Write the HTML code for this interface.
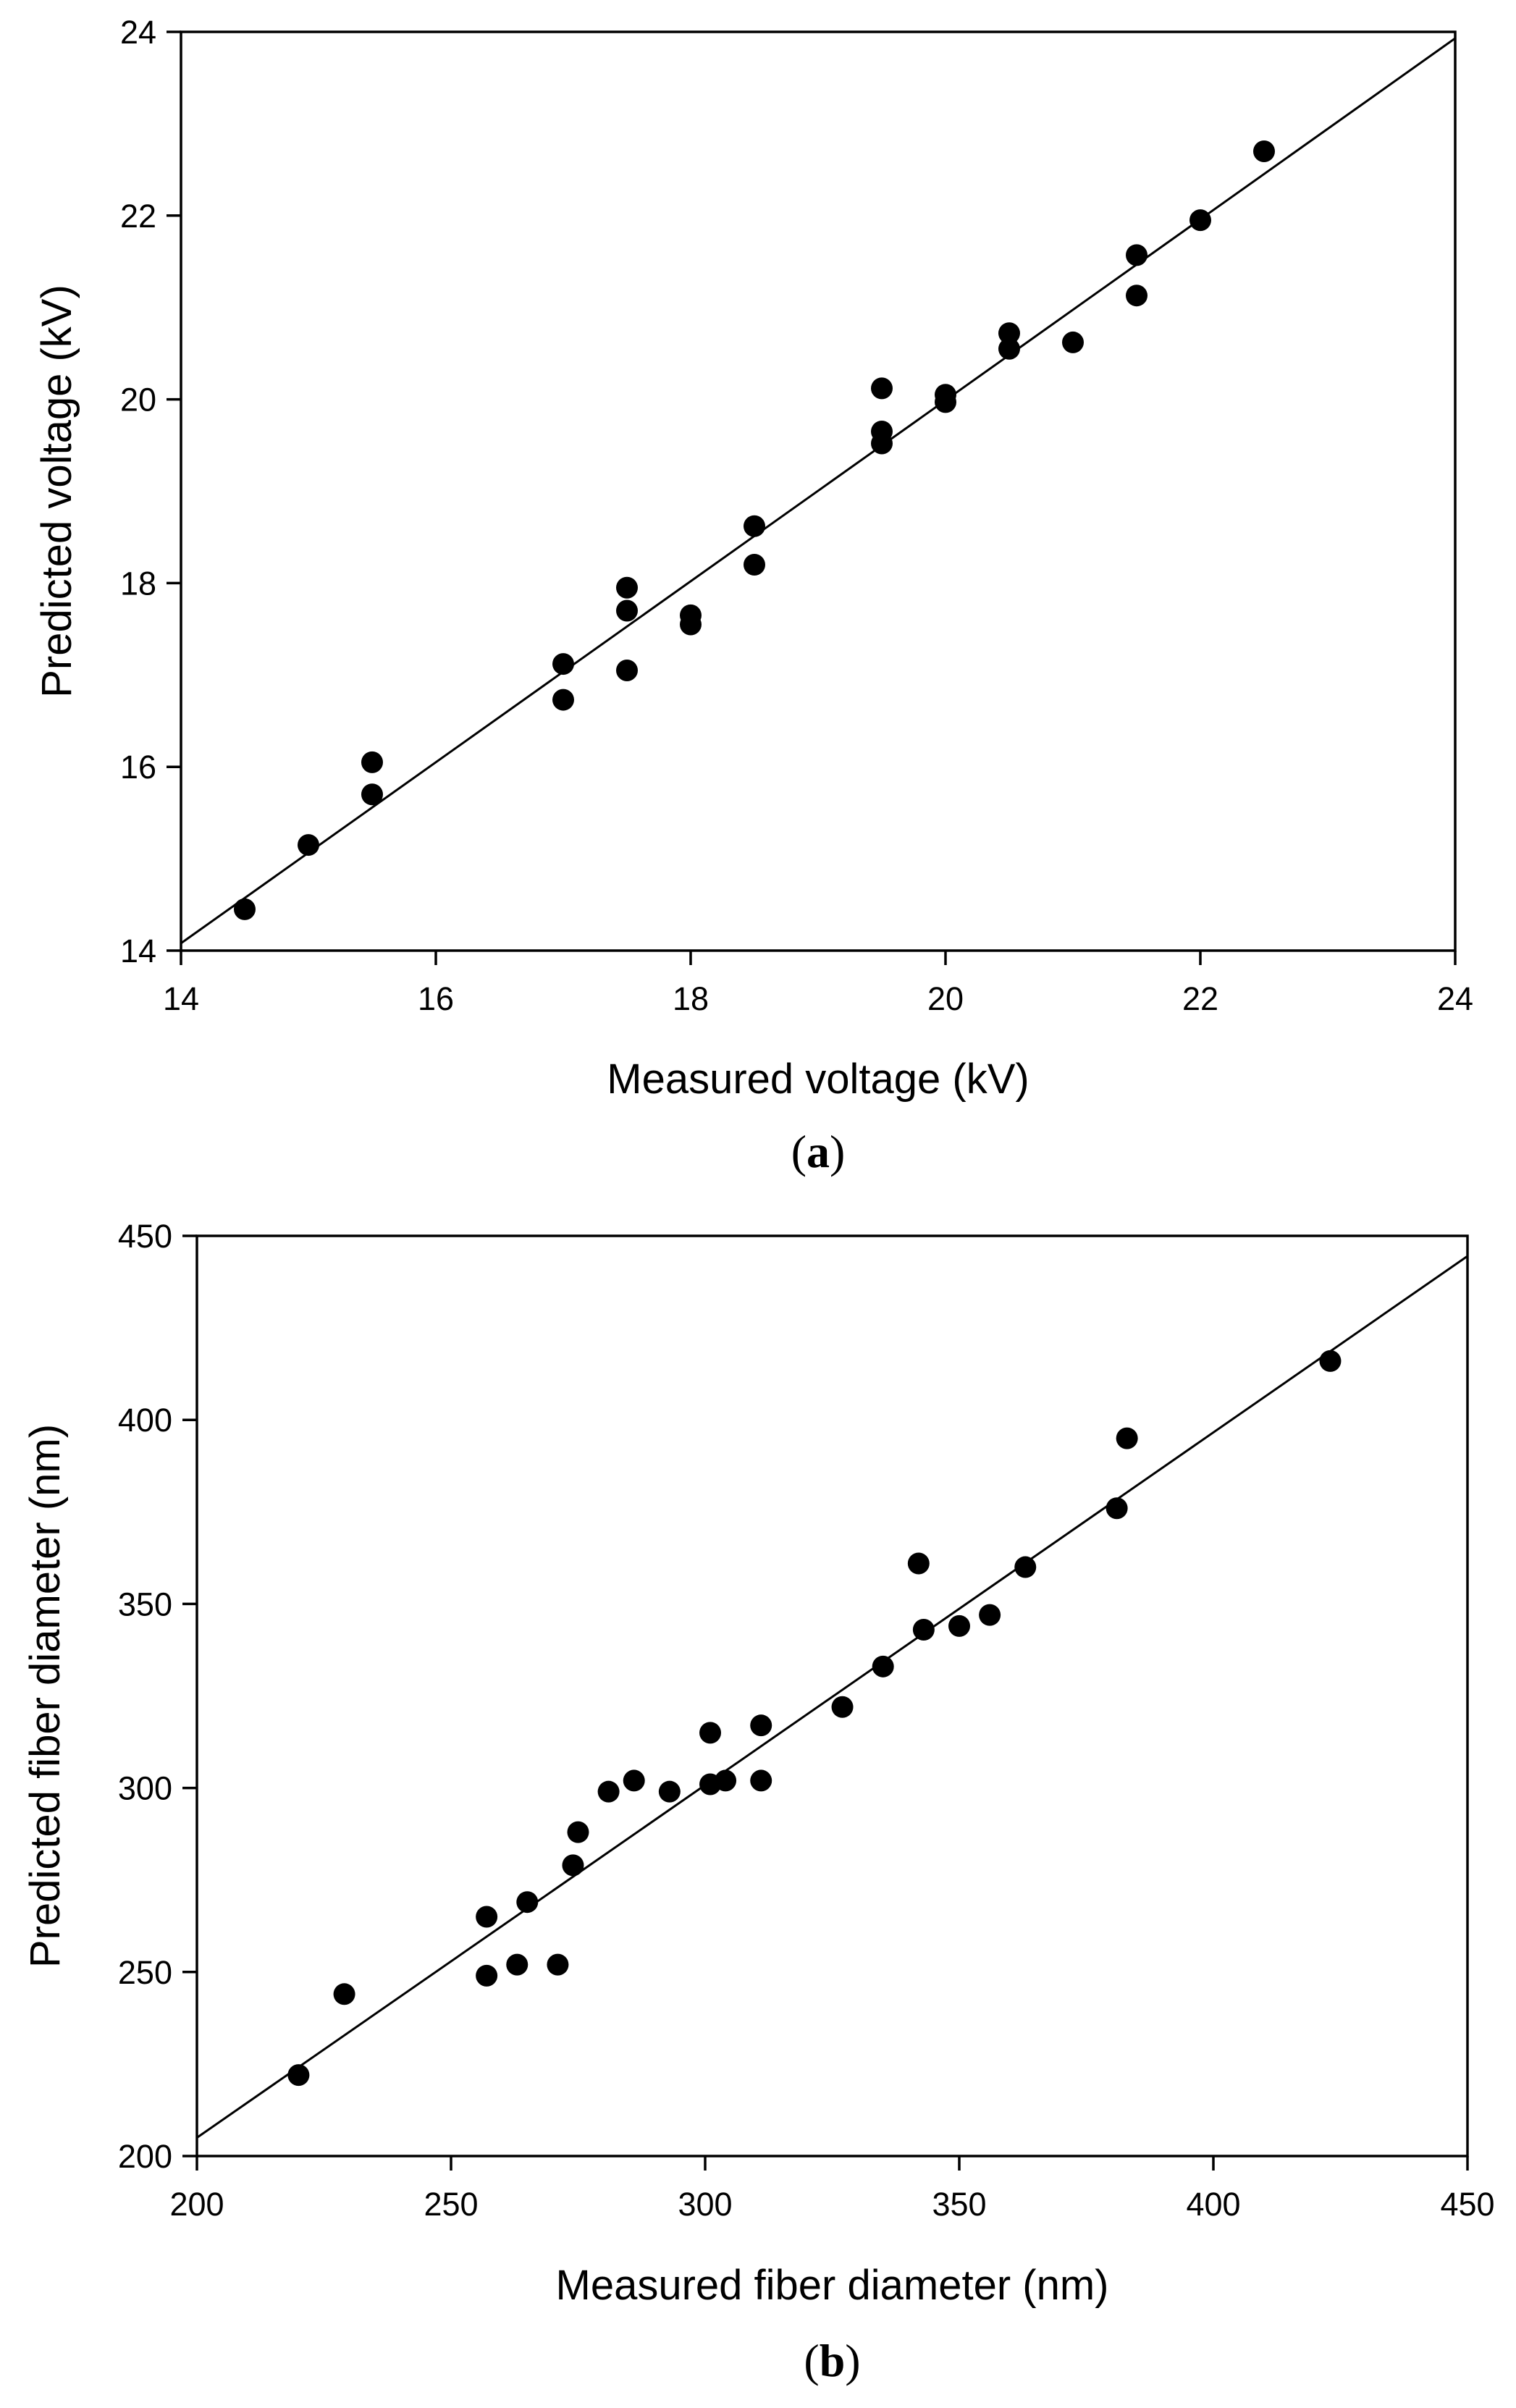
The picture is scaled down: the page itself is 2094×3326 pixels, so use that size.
<!DOCTYPE html>
<html><head><meta charset="utf-8"><style>
html,body{margin:0;padding:0;background:#fff;}
svg{display:block;font-family:"Liberation Sans",sans-serif;}
</style></head><body>
<svg id="fig" width="2094" height="3326" viewBox="0 0 2094 3326" xmlns="http://www.w3.org/2000/svg"></svg>
<script>
const aX=[14.5,15,15.5,15.5,17,17,17.5,17.5,17.5,18,18,18.5,18.5,19.5,19.5,19.5,20,20,20.5,20.5,21,21.5,21.5,22,22.5];
const aY=[14.45,15.15,16.05,15.7,17.12,16.73,17.95,17.7,17.05,17.65,17.55,18.62,18.2,20.12,19.65,19.52,20.05,19.97,20.72,20.55,20.62,21.57,21.13,21.95,22.7];
const aLine=[[14,14.08],[24,23.93]];
const aTicks=[14,16,18,20,22,24];
const bX=[220,229,257,257,263,265,271,274,275,281,286,293,301,301,304,311,311,327,335,342,343,350,356,363,381,383,423];
const bY=[222,244,265,249,252,269,252,279,288,299,302,299,315,301,302,317,302,322,333,361,343,344,347,360,376,395,416];
const bLine=[[200,205],[450,444.5]];
const bTicks=[200,250,300,350,400,450];
const NS="http://www.w3.org/2000/svg";
const svg=document.getElementById('fig');
function mk(tag,attrs,parent){const e=document.createElementNS(NS,tag);for(const k in attrs)e.setAttribute(k,attrs[k]);(parent||svg).appendChild(e);return e;}
function panel(cfg){
  const g=mk('g',{});
  
  
  const sx=v=>cfg.L+(v-cfg.min)/(cfg.max-cfg.min)*(cfg.R-cfg.L);
  const sy=v=>cfg.B-(v-cfg.min)/(cfg.max-cfg.min)*(cfg.B-cfg.T);
  const fr=mk('rect',{x:cfg.L,y:cfg.T,width:cfg.R-cfg.L,height:cfg.B-cfg.T,fill:'none',stroke:'#000','stroke-width':3.5},g);
  
  
  cfg.ticks.forEach(t=>{
    const tx=mk('line',{x1:sx(t),x2:sx(t),y1:cfg.B,y2:cfg.B+20,stroke:'#000','stroke-width':3.5},g);
    
    
    const lx=mk('text',{x:sx(t),y:cfg.B+82,'font-size':45,'text-anchor':'middle'},g);lx.textContent=t;
    
    
    const ty=mk('line',{x1:cfg.L-20,x2:cfg.L,y1:sy(t),y2:sy(t),stroke:'#000','stroke-width':3.5},g);
    
    
    const ly=mk('text',{x:cfg.L-34,y:sy(t)+16,'font-size':45,'text-anchor':'end'},g);ly.textContent=t;
    
    
  });
  const ln=mk('line',{x1:sx(cfg.line[0][0]),y1:sy(cfg.line[0][1]),x2:sx(cfg.line[1][0]),y2:sy(cfg.line[1][1]),stroke:'#000','stroke-width':3},g);
  
  
  cfg.xs.forEach((v,i)=>{
    const c=mk('circle',{cx:sx(v),cy:sy(cfg.ys[i]),r:15,fill:'#000'},g);
    
    
  });
  const xt=mk('text',{x:(cfg.L+cfg.R)/2,y:cfg.xtY,'font-size':58,'text-anchor':'middle'},g);xt.textContent=cfg.xtitle;
  
  
  const yt=mk('text',{x:0,y:0,'font-size':58,'text-anchor':'middle',transform:`translate(${cfg.ytX},${(cfg.T+cfg.B)/2}) rotate(-90)`},g);yt.textContent=cfg.ytitle;
  
  
  const pl=mk('text',{x:(cfg.L+cfg.R)/2,y:cfg.plY,'font-size':64,'text-anchor':'middle','font-family':'"Liberation Serif",serif'},g);
  
  
  pl.innerHTML=`(<tspan font-weight="bold">${cfg.letter}</tspan>)`;
}
panel({name:'chart-voltage',L:250,R:2010,T:44,B:1313,min:14,max:24,ticks:aTicks,xs:aX,ys:aY,line:aLine,
  xtitle:'Measured voltage (kV)',ytitle:'Predicted voltage (kV)',xtY:1510,ytX:98,plY:1612,letter:'a'});
panel({name:'chart-fiber-diameter',L:272,R:2027,T:1707,B:2978,min:200,max:450,ticks:bTicks,xs:bX,ys:bY,line:bLine,
  xtitle:'Measured fiber diameter (nm)',ytitle:'Predicted fiber diameter (nm)',xtY:3176,ytX:82,plY:3282,letter:'b'});
</script>
</body></html>
